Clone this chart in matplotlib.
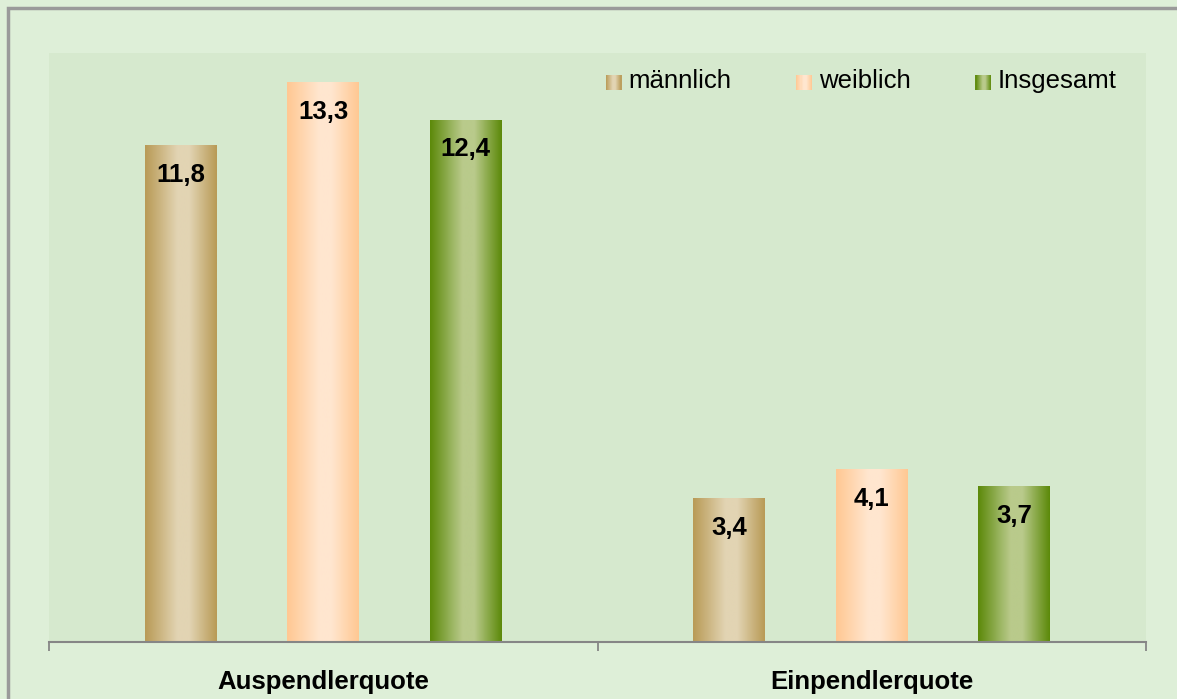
import numpy as np
import matplotlib
matplotlib.use('Agg')
from matplotlib import pyplot as plt
from matplotlib.colors import LinearSegmentedColormap
from matplotlib.patches import Rectangle
from matplotlib.legend_handler import HandlerBase

plt.rcParams['font.family'] = ['Liberation Sans', 'DejaVu Sans']

categories = ['Auspendlerquote', 'Einpendlerquote']
series = ['männlich', 'weiblich', 'Insgesamt']
values = {
    'männlich': [11.8, 3.4],
    'weiblich': [13.3, 4.1],
    'Insgesamt': [12.4, 3.7],
}
labels = {
    'männlich': ['11,8', '3,4'],
    'weiblich': ['13,3', '4,1'],
    'Insgesamt': ['12,4', '3,7'],
}

# dark edge / light centre of each bar gradient
edge_col = {'männlich': '#b99b57', 'weiblich': '#ffc893', 'Insgesamt': '#5d8a0b'}
mid_col = {'männlich': '#e2d4b3', 'weiblich': '#ffe6cf', 'Insgesamt': '#b9ca8b'}

stops = [0.0, 0.45, 0.62, 1.0]


def gradient_cmap(name):
    e, m = edge_col[name], mid_col[name]
    return LinearSegmentedColormap.from_list(name, list(zip(stops, [e, m, m, e])))


grad = np.linspace(0, 1, 64).reshape(1, -1)


class GradientHandler(HandlerBase):
    def __init__(self, name):
        super().__init__()
        self.name = name

    def create_artists(self, legend, orig_handle, xdescent, ydescent,
                       width, height, fontsize, trans):
        cmap = gradient_cmap(self.name)
        n = 15
        arts = []
        for k in range(n):
            r = Rectangle((-xdescent + width * k / n, -ydescent - 2.5), width / n + 0.3, height,
                          facecolor=cmap((k + 0.5) / n), edgecolor='none', transform=trans)
            arts.append(r)
        return arts


fig = plt.figure(figsize=(11.77, 6.99), dpi=100, facecolor='#deefd8')
ax = fig.add_axes([49 / 1177, 57 / 699, 1097 / 1177, 589 / 699])
ax.set_facecolor('#d6e9ce')

x = np.arange(len(categories))
width = 0.131
offsets = [-0.26, 0.0, 0.26]

handles = []
for i, name in enumerate(series):
    bars = ax.bar(x + offsets[i], values[name], width, color=edge_col[name], label=name, zorder=2)
    cmap = gradient_cmap(name)
    for b, txt in zip(bars, labels[name]):
        x0, h = b.get_x(), b.get_height()
        ax.imshow(grad, cmap=cmap, extent=[x0, x0 + b.get_width(), 0, h],
                  aspect='auto', interpolation='bilinear', zorder=3)
        ax.annotate(txt, (x0 + b.get_width() / 2, h), xytext=(0, -21),
                    textcoords='offset points', ha='center', va='center',
                    fontsize=18.5, fontweight='bold', zorder=4)
    handles.append(bars)

ax.set_xlim(-0.5, 1.5)
ax.set_ylim(0, 14)

for s in ['left', 'right', 'top']:
    ax.spines[s].set_visible(False)
ax.spines['bottom'].set_color('#868686')
ax.spines['bottom'].set_linewidth(1.5)
ax.spines['bottom'].set_zorder(5)

ax.set_yticks([])
ax.set_xticks(x)
ax.set_xticklabels(categories, fontsize=18.5, fontweight='bold')
ax.tick_params(axis='x', which='major', length=0, pad=20)
ax.set_xticks([-0.5, 0.5, 1.5], minor=True)
ax.tick_params(axis='x', which='minor', length=6.5, width=1.3, color='#868686')

leg = fig.legend(handles=handles, labels=series,
                 handler_map={h: GradientHandler(n) for h, n in zip(handles, series)},
                 loc='center left', bbox_to_anchor=(606 / 1177, 1 - 81 / 699),
                 ncol=3, frameon=False, fontsize=18.5, borderpad=0, borderaxespad=0,
                 handlelength=0.6, handleheight=0.56, handletextpad=0.28,
                 columnspacing=2.52)

# outer chart frame (only top and left edges fall inside the picture)
fig.patches.append(Rectangle((7.5, -20), 1300, 711, transform=None, fill=False,
                             edgecolor='#9a9a9a', linewidth=2.5))

fig.savefig('out.png', dpi=100, facecolor=fig.get_facecolor())
